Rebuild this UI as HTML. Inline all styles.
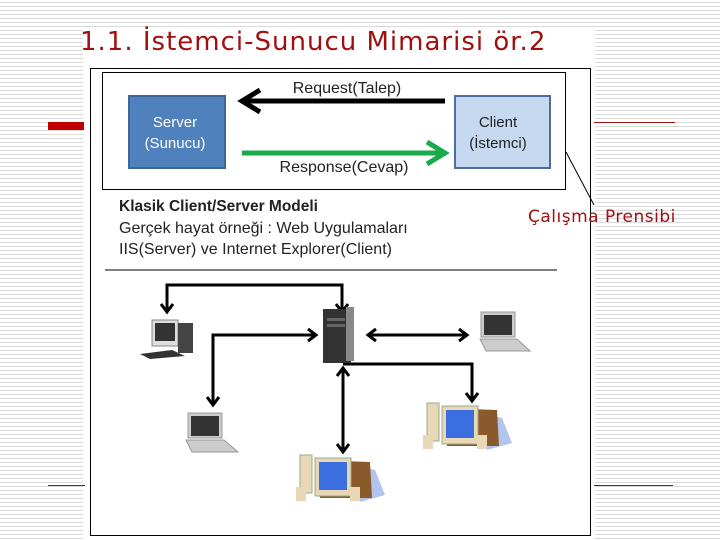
<!DOCTYPE html>
<html><head><meta charset="utf-8"><style>
body{margin:0;width:720px;height:540px;overflow:hidden;position:relative;font-family:"Liberation Sans","DejaVu Sans",sans-serif;
background:repeating-linear-gradient(to bottom,#fff 0,#fff 2px,#d9d9d9 2px,#d9d9d9 3px,#fff 3px,#fff 4px);}
.a{position:absolute}
</style></head><body>
<div class="a" style="left:83px;top:30px;width:512px;height:510px;background:#fff"></div>
<div class="a" style="left:80px;top:27px;font-size:26px;letter-spacing:1px;color:#a01010;font-family:'DejaVu Sans',sans-serif;white-space:nowrap">1.1. İstemci-Sunucu Mimarisi ör.2</div>
<div class="a" style="left:48px;top:122px;width:36px;height:8px;background:#c00000"></div>
<div class="a" style="left:594px;top:122px;width:81px;height:1px;background:#a01010"></div>
<div class="a" style="left:48px;top:485px;width:37px;height:1px;background:#a01010"></div>
<div class="a" style="left:594px;top:485px;width:79px;height:1px;background:#a01010"></div>
<svg class="a" style="left:0;top:0" width="720" height="540">
<rect x="90.5" y="68.5" width="500" height="467" fill="#fff" stroke="#000"/>
<rect x="102.5" y="72.5" width="463" height="117" fill="#fff" stroke="#000"/>
<line x1="566" y1="152" x2="594" y2="205" stroke="#000"/>
<rect x="129" y="96" width="96" height="72" fill="#4f81bd" stroke="#3d6798" stroke-width="2"/>
<rect x="455" y="96" width="95" height="72" fill="#c6d9f1" stroke="#4f6d9a" stroke-width="2"/>
<g font-family="Liberation Sans,sans-serif" font-size="15" text-anchor="middle">
<text x="175" y="127" fill="#fff">Server</text><text x="175" y="148" fill="#fff">(Sunucu)</text>
<text x="498" y="127" fill="#222">Client</text><text x="498" y="148" fill="#222">(İstemci)</text>
<text x="347" y="93" fill="#222" font-size="16">Request(Talep)</text>
<text x="344" y="172" fill="#222" font-size="16">Response(Cevap)</text>
</g>
<line x1="445" y1="101" x2="245" y2="101" stroke="#000" stroke-width="5"/>
<polyline points="260,90 242,101 260,112" fill="none" stroke="#000" stroke-width="5"/>
<line x1="242" y1="153" x2="442" y2="153" stroke="#1aaa4a" stroke-width="5"/>
<polyline points="427,142 445,153 427,164" fill="none" stroke="#1aaa4a" stroke-width="5"/>
<g font-family="Liberation Sans,sans-serif" font-size="16" fill="#222">
<text x="119" y="211" font-weight="bold" font-size="15.5">Klasik Client/Server Modeli</text>
<text x="119" y="233">Gerçek hayat örneği : Web Uygulamaları</text>
<text x="119" y="254">IIS(Server) ve Internet  Explorer(Client)</text>
</g>
<line x1="105" y1="270" x2="557" y2="270" stroke="#555" stroke-width="1.5"/>
<g stroke="#000" stroke-width="3" fill="none">
<polyline points="167,312 167,285 342,285 342,312"/>
<polyline points="161,304 167,312 173,304"/><polyline points="336,304 342,312 348,304"/>
<polyline points="316,335 213,335 213,405"/>
<polyline points="308,329 316,335 308,341"/><polyline points="207,397 213,405 219,397"/>
<line x1="368" y1="335" x2="467" y2="335"/>
<polyline points="376,329 368,335 376,341"/><polyline points="459,329 467,335 459,341"/>
<polyline points="343,364 472,364 472,401"/>
<polyline points="466,393 472,401 478,393"/>
<line x1="343" y1="368" x2="343" y2="452"/>
<polyline points="337,376 343,368 349,376"/><polyline points="337,444 343,452 349,444"/>
</g>
<rect x="323" y="309" width="28" height="54" fill="#333"/><rect x="346" y="307" width="8" height="54" fill="#888"/>
<rect x="327" y="318" width="18" height="3" fill="#666"/><rect x="327" y="324" width="18" height="3" fill="#666"/>
<rect x="152" y="320" width="26" height="26" fill="#ddd" stroke="#888"/><rect x="155" y="323" width="20" height="18" fill="#333"/>
<rect x="178" y="323" width="15" height="30" fill="#444"/>
<polygon points="140,354 172,350 185,356 150,359" fill="#333"/>
<rect x="188" y="413" width="34" height="25" fill="#ccc" stroke="#999"/><rect x="191" y="416" width="28" height="20" fill="#333"/>
<polygon points="186,440 224,440 238,452 192,452" fill="#ccc" stroke="#999"/>
<rect x="481" y="312" width="34" height="25" fill="#ccc" stroke="#999"/><rect x="484" y="315" width="28" height="20" fill="#333"/>
<polygon points="480,339 517,339 530,351 486,351" fill="#ccc" stroke="#999"/>
<g>
<polygon points="345,462 375,470 385,495 360,502" fill="#b0c4ee"/>
<rect x="300" y="455" width="12" height="38" fill="#e8d8b8" stroke="#9a8"/>
<polygon points="315,460 370,462 372,498 320,498" fill="#8b5a2b"/>
<rect x="315" y="458" width="36" height="38" fill="#e8d8b8" stroke="#9a8"/><rect x="319" y="462" width="28" height="28" fill="#3b6fe0"/>
<rect x="296" y="487" width="10" height="14" fill="#e8d8b8"/><rect x="350" y="487" width="10" height="14" fill="#e8d8b8"/>
</g>
<g transform="translate(127,-52)">
<polygon points="345,462 375,470 385,495 360,502" fill="#b0c4ee"/>
<rect x="300" y="455" width="12" height="38" fill="#e8d8b8" stroke="#9a8"/>
<polygon points="315,460 370,462 372,498 320,498" fill="#8b5a2b"/>
<rect x="315" y="458" width="36" height="38" fill="#e8d8b8" stroke="#9a8"/><rect x="319" y="462" width="28" height="28" fill="#3b6fe0"/>
<rect x="296" y="487" width="10" height="14" fill="#e8d8b8"/><rect x="350" y="487" width="10" height="14" fill="#e8d8b8"/>
</g>
</svg>
<div class="a" style="left:528px;top:207px;font-size:17px;letter-spacing:0.5px;color:#a01010;font-family:'DejaVu Sans',sans-serif;white-space:nowrap;z-index:2">Çalışma Prensibi</div>
</body></html>
